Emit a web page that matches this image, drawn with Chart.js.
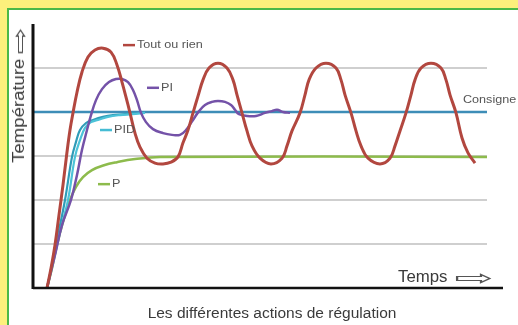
<!DOCTYPE html>
<html lang="fr">
<head>
    <meta charset="UTF-8"/>
    <title>Les différentes actions de régulation</title>
    <style>
        html, body {
            margin: 0;
            padding: 0;
            width: 518px;
            height: 325px;
            background: #fdf07c;
            overflow: hidden;
            font-family: 'Liberation Sans', Arial, sans-serif;
        }

        #frame {
            position: absolute;
            left: 7px;
            top: 8px;
            width: 530px;
            height: 340px;
            box-sizing: border-box;
            border: 2.5px solid #4cb848;
            background: #fff;
        }

        #chart {
            position: absolute;
            left: 0;
            top: 0;
        }

        .txt {
            position: absolute;
            color: #3a3a3a;
            white-space: nowrap;
        }

        #ylabel {
            left: 19px;
            top: 97px;
            font-size: 16px;
            transform: translate(-50%, -50%) rotate(-90deg) scaleX(1.16);
        }

        #xlabel {
            left: 398px;
            top: 268px;
            font-size: 16px;
            transform: scaleX(1.05);
            transform-origin: left center;
        }

        #caption {
            left: 272px;
            top: 304px;
            font-size: 15.5px;
            transform: translateX(-50%);
        }

        .arrow {
            display: inline-block;
            font-family: 'DejaVu Sans', sans-serif;
            color: #555;
            vertical-align: middle;
        }

        #ylabel .arrow {
            margin-left: 6px;
            font-size: 21px;
            line-height: 16px;
            transform: scaleX(1.3);
        }

        #xlabel .arrow {
            margin-left: 16px;
            font-size: 21px;
            line-height: 16px;
            transform: scaleX(2.1);
        }
    </style>
    <script src="https://cdn.jsdelivr.net/npm/chart.js@4/dist/chart.umd.min.js"></script>
</head>
<body>
<div id="frame"></div>
<canvas id="chart" width="518" height="325"></canvas>
<div class="txt" id="ylabel">Température<span class="arrow">⇨</span></div>
<div class="txt" id="xlabel">Temps<span class="arrow">⇨</span></div>
<div class="txt" id="caption">Les différentes actions de régulation</div>

<script>
    // Data (time in arbitrary units, temperature in arbitrary units)
    const tRed = [14, 18, 22, 26, 30, 34, 37, 40, 44, 49, 55, 62, 70, 78, 84, 89, 93, 97, 102, 107, 114, 122, 130,
        138, 145, 150, 155, 160, 165, 170, 176, 185, 194, 200, 204, 209, 214, 219, 227, 238,
        249, 254, 259, 267, 272, 276, 283, 293, 303, 308, 312, 318, 323, 328, 335, 347,
        357, 362, 367, 373, 378, 382, 388, 398, 408, 413, 417, 423, 429, 435, 442];
    const yRed = [0, 4.5, 9.8, 16.6, 23.4, 30.9, 35.9, 39.8, 44.5, 49.1, 52.5, 54.1, 54.5, 53.6, 50.7, 46.8, 43.4, 39.8, 35.2, 32.0, 29.5, 28.4, 28.2,
        28.6, 29.8, 33.0, 35.9, 39.8, 43.6, 47.3, 50.0, 51.1, 50.0, 47.3, 43.9, 39.8, 35.7, 32.3, 29.5, 28.2,
        29.5, 32.3, 35.7, 39.8, 43.9, 47.3, 50.0, 51.1, 50.0, 47.3, 43.9, 39.8, 35.7, 32.3, 29.5, 28.2,
        29.5, 32.3, 35.7, 39.8, 43.9, 47.3, 50.0, 51.1, 50.0, 47.3, 43.9, 39.8, 34.1, 30.7, 28.4];

    const tPI = [14, 22, 29, 38, 44, 49, 54, 58, 63, 69, 76, 83, 89, 95, 100, 104, 108, 113, 120, 130, 139, 147,
        153, 160, 166, 172, 179, 185, 192, 198, 202, 206, 214, 223, 232, 239, 244, 250, 257];
    const yPI = [0, 7.5, 14.3, 20.0, 25.7, 31.4, 35.9, 39.3, 42.7, 45.2, 46.8, 47.5, 47.5, 46.8, 45.0, 42.7, 39.8, 37.7, 36.1, 35.2, 34.8, 34.8,
        35.9, 38.2, 40.2, 41.6, 42.3, 42.5, 42.3, 41.6, 40.5, 39.5, 39.1, 39.1, 39.8, 40.2, 40.5, 40.0, 39.8];

    const tPIDa = [14, 20, 25, 32, 39, 43, 47, 53, 60, 70, 80, 92, 102];
    const yPIDa = [0, 6.4, 12.0, 20.0, 29.8, 33.2, 35.9, 37.5, 38.2, 38.9, 39.3, 39.5, 39.8];
    const tPIDb = [14, 21, 27, 35, 42, 47, 52, 58, 65, 75, 87, 99, 112];
    const yPIDb = [0, 6.8, 12.7, 20.0, 29.8, 33.6, 36.4, 37.7, 38.2, 38.9, 39.3, 39.5, 39.8];

    const tP = [14, 19, 24, 30, 37, 43, 50, 59, 71, 84, 102, 127, 454];
    const yP = [0, 4.5, 9.8, 15.0, 20.0, 23.0, 25.2, 26.8, 27.9, 28.6, 29.3, 29.8, 29.8];

    const tConsigne = [0, 454];
    const yConsigne = [40, 40];

    const gridLevels = [10, 20, 30, 50];
    const gridEnd = 454;

    // Curve labels (data coordinates)
    const curveLabels = [
        {text: 'Tout ou rien', t: 90, y: 55.2, color: '#b2473f'},
        {text: 'PI', t: 114, y: 45.5, color: '#7452a8'},
        {text: 'PID', t: 67, y: 35.9, color: '#45bcd4'},
        {text: 'P', t: 65, y: 23.6, color: '#8dbb4c'}
    ];

    const pts = (ts, ys) => ts.map((t, i) => ({x: t, y: ys[i]}));

    const decor = {
        id: 'decor',
        beforeDatasetsDraw(chart) {
            const {ctx, scales: {x, y}} = chart;
            ctx.save();
            ctx.strokeStyle = '#cfcfcf';
            ctx.lineWidth = 2;
            gridLevels.forEach(v => {
                const py = y.getPixelForValue(v);
                ctx.beginPath();
                ctx.moveTo(x.getPixelForValue(0), py);
                ctx.lineTo(x.getPixelForValue(gridEnd), py);
                ctx.stroke();
            });
            ctx.restore();
        },
        afterDatasetsDraw(chart) {
            const {ctx, chartArea: a, scales: {x, y}} = chart;
            ctx.save();
            // axes
            ctx.strokeStyle = '#111';
            ctx.lineWidth = 3;
            ctx.beginPath();
            ctx.moveTo(a.left, a.top);
            ctx.lineTo(a.left, a.bottom + 1);
            ctx.stroke();
            ctx.lineWidth = 2.5;
            ctx.beginPath();
            ctx.moveTo(a.left, a.bottom);
            ctx.lineTo(a.right, a.bottom);
            ctx.stroke();

            // curve labels
            ctx.font = '10.5px "Liberation Sans", Arial, sans-serif';
            ctx.textBaseline = 'middle';
            curveLabels.forEach(l => {
                const px = x.getPixelForValue(l.t);
                const py = y.getPixelForValue(l.y);
                ctx.strokeStyle = l.color;
                ctx.lineWidth = 2.5;
                ctx.beginPath();
                ctx.moveTo(px, py);
                ctx.lineTo(px + 12, py);
                ctx.stroke();
                ctx.save();
                ctx.translate(px + 14, py);
                ctx.scale(1.2, 1);
                ctx.fillStyle = '#555';
                ctx.fillText(l.text, 0, 0);
                ctx.restore();
            });

            ctx.save();
            ctx.translate(x.getPixelForValue(430), y.getPixelForValue(42.7));
            ctx.scale(1.2, 1);
            ctx.fillStyle = '#555';
            ctx.fillText('Consigne', 0, 0);
            ctx.restore();
            ctx.restore();
        }
    };

    const line = (data, color, width, order) => ({
        data,
        borderColor: color,
        borderWidth: width,
        pointRadius: 0,
        fill: false,
        tension: 0.4,
        order
    });

    new Chart(document.getElementById('chart').getContext('2d'), {
        type: 'line',
        data: {
            datasets: [
                line(pts(tRed, yRed), '#b2473f', 3, 0),
                line(pts(tPI, yPI), '#7452a8', 2.5, 1),
                line(pts(tPIDb, yPIDb), '#4cc3d8', 2.2, 2),
                line(pts(tPIDa, yPIDa), '#2f9cb8', 2.2, 3),
                line(pts(tP, yP), '#8dbb4c', 2.5, 4),
                line(pts(tConsigne, yConsigne), '#3d8db7', 2.5, 5)
            ]
        },
        options: {
            responsive: false,
            animation: false,
            layout: {padding: {left: 33, right: 15, top: 24, bottom: 37}},
            scales: {
                x: {type: 'linear', min: 0, max: 470, display: false},
                y: {type: 'linear', min: 0, max: 60, display: false}
            },
            plugins: {
                legend: {display: false},
                tooltip: {enabled: false}
            }
        },
        plugins: [decor]
    });
</script>
</body>
</html>
